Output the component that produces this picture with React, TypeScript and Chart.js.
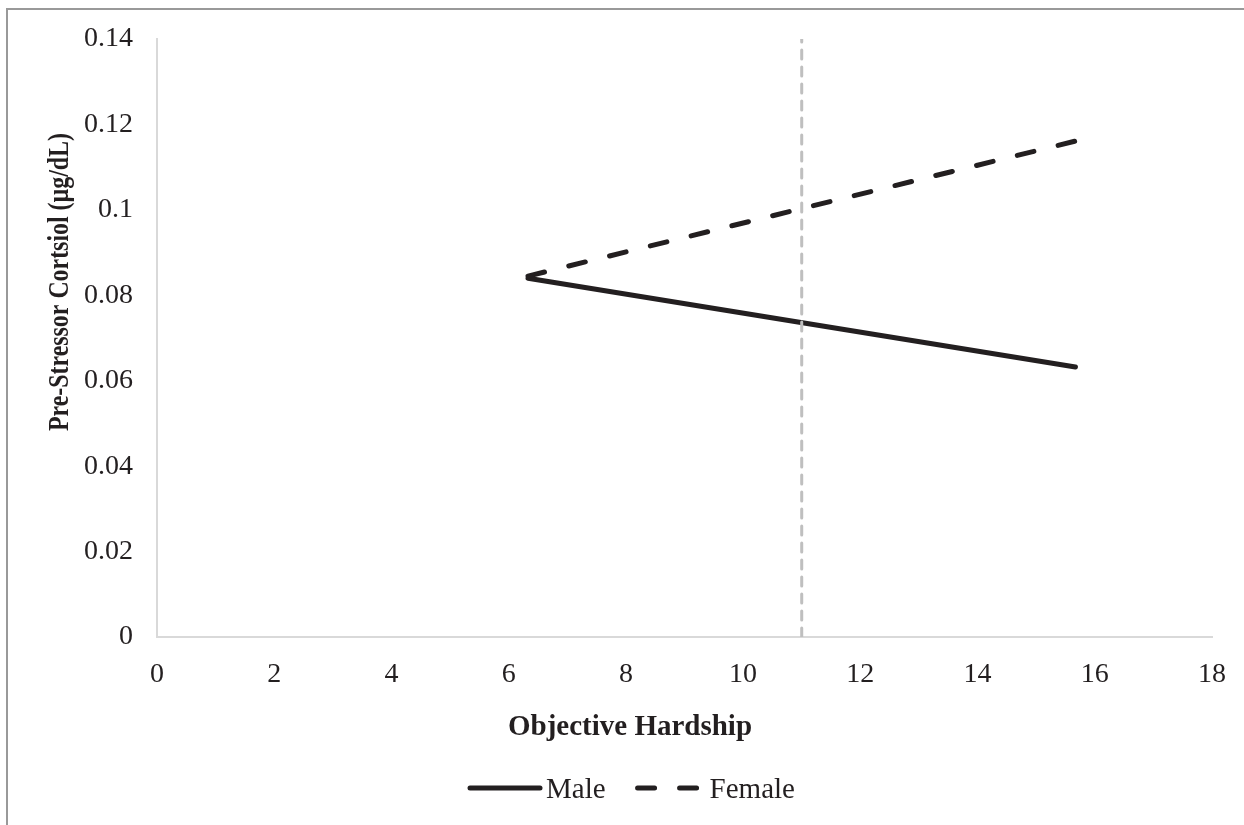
import React, { useEffect, useRef } from 'react';
import { Chart, registerables } from 'chart.js';

Chart.register(...registerables);

// ---- data ----
const hardshipRange = [6.33, 15.67];
const maleValues = [0.084, 0.0632];
const femaleValues = [0.0845, 0.1161];
const meanHardship = 11;
const meanLineY = [0, 0.14];
const yTickLabels = ['0', '0.02', '0.04', '0.06', '0.08', '0.1', '0.12', '0.14'];
const seriesLabels = ['Male', 'Female'];
const xTitle = 'Objective Hardship';
const yTitle = 'Pre-Stressor Cortsiol (µg/dL)';

const INK = '#231f20';
const FONT = '"Liberation Serif", "Times New Roman", serif';

const overlayPlugin = {
  id: 'overlayText',
  afterDraw(chart: any) {
    const ctx = chart.ctx;
    ctx.save();
    ctx.fillStyle = INK;
    // x axis title
    ctx.font = `bold 29px ${FONT}`;
    ctx.textAlign = 'center';
    ctx.textBaseline = 'alphabetic';
    ctx.fillText(xTitle, 630, 735, 244);
    // y axis title
    ctx.save();
    ctx.translate(68, 282);
    ctx.rotate(-Math.PI / 2);
    ctx.font = `bold 29px ${FONT}`;
    ctx.fillText(yTitle, 0, 0, 298);
    ctx.restore();
    // legend
    ctx.font = `29px ${FONT}`;
    ctx.textAlign = 'left';
    ctx.textBaseline = 'alphabetic';
    let x = 470;
    const lineY = 788;
    const textY = 798;
    chart.data.datasets.forEach((ds: any) => {
      if (!seriesLabels.includes(ds.label)) return;
      const dashed = ds.borderDash && ds.borderDash.length;
      ctx.save();
      ctx.strokeStyle = ds.borderColor;
      ctx.lineWidth = ds.borderWidth;
      ctx.lineCap = ds.borderCapStyle || 'butt';
      ctx.setLineDash(ds.borderDash || []);
      ctx.beginPath();
      const w = dashed ? 62 : 70;
      const x0 = dashed ? x + 3 : x;
      ctx.moveTo(x0, lineY);
      ctx.lineTo(x0 + w, lineY);
      ctx.stroke();
      ctx.restore();
      ctx.fillStyle = INK;
      const tx = x + (dashed ? 75 : 76);
      ctx.fillText(ds.label, tx, textY);
      x = tx + ctx.measureText(ds.label).width + 29;
    });
    ctx.restore();
  },
};

export default function App() {
  const ref = useRef<HTMLCanvasElement>(null);

  useEffect(() => {
    if (!ref.current) return;
    const chart = new Chart(ref.current, {
      type: 'scatter',
      data: {
        datasets: [
          {
            label: 'mean',
            data: meanLineY.map((v) => ({ x: meanHardship, y: v })),
            showLine: true,
            borderColor: '#bfbfbf',
            borderWidth: 3,
            borderDash: [9, 8],
            borderCapStyle: 'round',
            pointRadius: 0,
          },
          {
            label: seriesLabels[0],
            data: hardshipRange.map((x, i) => ({ x, y: maleValues[i] })),
            showLine: true,
            borderColor: INK,
            borderWidth: 5,
            borderCapStyle: 'round',
            pointRadius: 0,
          },
          {
            label: seriesLabels[1],
            data: hardshipRange.map((x, i) => ({ x, y: femaleValues[i] })),
            showLine: true,
            borderColor: INK,
            borderWidth: 5,
            borderDash: [17, 25],
            borderCapStyle: 'round',
            pointRadius: 0,
          },
        ],
      } as any,
      options: {
        animation: false,
        responsive: false,
        devicePixelRatio: 1,
        layout: { padding: { left: 0, top: 39, right: 32, bottom: 0 } },
        plugins: {
          legend: { display: false },
          tooltip: { enabled: false },
        },
        scales: {
          x: {
            type: 'linear',
            min: 0,
            max: 18,
            grid: { display: false },
            border: { display: true, color: '#d9d9d9', width: 2 },
            ticks: {
              stepSize: 2,
              color: INK,
              padding: 13,
              font: { family: FONT, size: 28 },
            },
            afterFit: (s: any) => {
              s.height = 188;
            },
          },
          y: {
            min: 0,
            max: 0.14,
            grid: { display: false },
            border: { display: true, color: '#d9d9d9', width: 2 },
            ticks: {
              stepSize: 0.02,
              color: INK,
              padding: 16,
              font: { family: FONT, size: 28 },
              callback: (_v: any, i: number) => yTickLabels[i],
            },
            afterFit: (s: any) => {
              s.width = 157;
            },
          },
        },
      } as any,
      plugins: [overlayPlugin],
    });
    return () => chart.destroy();
  }, []);

  return (
    <div style={{ position: 'absolute', left: 0, top: 0, width: 1244, height: 825, background: '#fff', overflow: 'hidden' }}>
      <canvas ref={ref} width={1244} height={825} style={{ position: 'absolute', left: 0, top: 0 }} />
      <div
        style={{
          position: 'absolute',
          left: 6,
          top: 8,
          width: 1400,
          height: 1000,
          borderLeft: '2px solid #999',
          borderTop: '2px solid #999',
          pointerEvents: 'none',
        }}
      />
    </div>
  );
}
